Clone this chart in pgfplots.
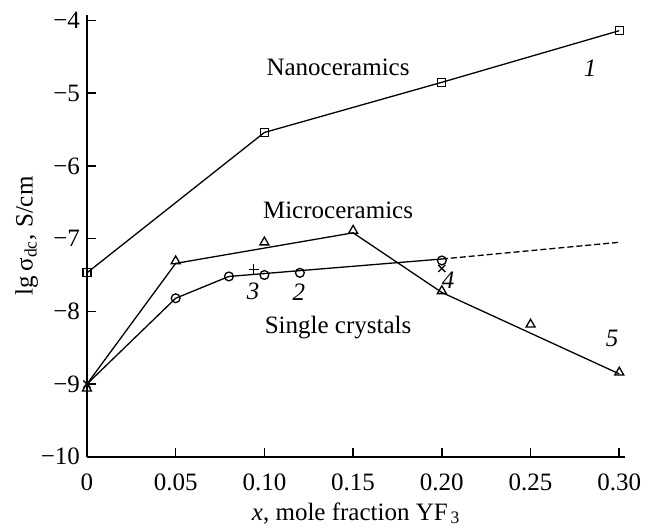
\documentclass[border=0pt]{standalone}
\usepackage{fontspec}
\setmainfont{Liberation Serif}
\usepackage{pgfplots}
\pgfplotsset{compat=1.18}
\newcommand{\fsz}{\fontsize{12.5}{15}\selectfont}
\begin{document}
\begin{tikzpicture}
\begin{axis}[
    scale only axis,
    width=269.2pt, height=221pt,
    xmin=0, xmax=0.3035,
    ymin=-10, ymax=-3.92,
    axis lines=left,
    axis line style={line width=1pt, -},
    tick align=inside,
    major tick length=4.5pt,
    tick style={line width=0.8pt, black},
    xtick={0,0.05,0.10,0.15,0.20,0.25,0.30},
    xticklabels={0,0.05,0.10,0.15,0.20,0.25,0.30},
    ytick={-10,-9,-8,-7,-6,-5,-4},
    yticklabels={−10,−9,−8,−7,−6,−5,−4},
    tick label style={font=\fsz},
    xticklabel style={yshift=-5pt},
    label style={font=\fsz},
    xlabel={\textit{x}, mole fraction YF\textsubscript{\,3}},
    ylabel={lg\,σ\textsubscript{dc}, S/cm},
    xlabel style={yshift=1pt},
    ylabel style={yshift=-5.5pt},
    clip=false,
    every axis plot/.append style={line width=0.65pt, black},
]
% bounding area of the figure
\path (axis cs:-0.049,-3.718) rectangle (axis cs:0.319,-10.912);

% 1: nanoceramics
\addplot[mark=square, mark size=2pt, mark options={fill=white, solid}]
  coordinates {(0,-7.47) (0.10,-5.54) (0.20,-4.85) (0.30,-4.14)};

% 5: microceramics line and markers
\addplot[no marks] coordinates {(0,-9.0) (0.05,-7.34) (0.15,-6.92) (0.20,-7.74) (0.30,-8.86)};
\addplot[only marks, mark=triangle, mark size=2.6pt, mark options={fill=white}]
  coordinates {(0,-9.06) (0.05,-7.31) (0.10,-7.05) (0.15,-6.89) (0.20,-7.72) (0.25,-8.18) (0.30,-8.84)};

% 2: single crystals
\addplot[no marks] coordinates {(0,-9.0) (0.05,-7.82) (0.08,-7.52) (0.20,-7.28)};
\addplot[no marks, dashed, dash pattern=on 3pt off 1.5pt] coordinates {(0.20,-7.28) (0.30,-7.05)};
\addplot[only marks, mark=o, mark size=2.2pt, mark options={fill=white}]
  coordinates {(0.05,-7.82) (0.08,-7.52) (0.10,-7.50) (0.12,-7.47) (0.20,-7.30)};

% 3 and 4
\addplot[only marks, mark=+, mark size=2.5pt] coordinates {(0.094,-7.42)};
\addplot[only marks, mark=x, mark size=2.5pt] coordinates {(0,-9.0) (0.20,-7.41)};

\node[font=\fsz] at (axis cs:0.1415,-4.64) {Nanoceramics};
\node[font=\fsz] at (axis cs:0.1415,-6.61) {Microceramics};
\node[font=\fsz] at (axis cs:0.1415,-8.22) {Single crystals};
\node[font=\fsz\itshape] at (axis cs:0.2835,-4.65) {1};
\node[font=\fsz\itshape] at (axis cs:0.0936,-7.73) {3};
\node[font=\fsz\itshape] at (axis cs:0.1195,-7.73) {2};
\node[font=\fsz\itshape] at (axis cs:0.2035,-7.57) {4};
\node[font=\fsz\itshape] at (axis cs:0.296,-8.37) {5};
\end{axis}
\end{tikzpicture}
\end{document}
